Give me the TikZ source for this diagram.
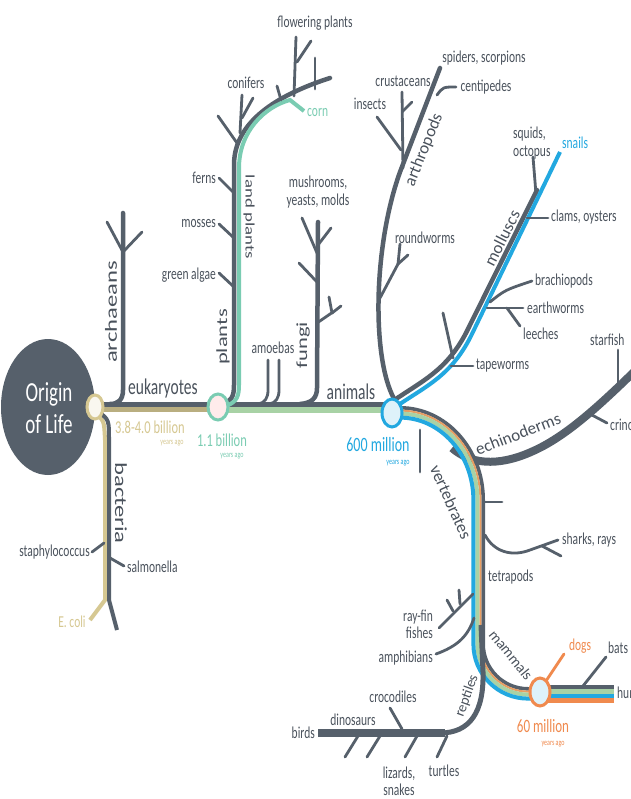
\documentclass[tikz,border=0pt]{standalone}
\usepackage{fontspec}
\setmainfont{Carlito}

\definecolor{tgray}{HTML}{56606B}
\definecolor{tlabel}{HTML}{4A525C}
\definecolor{tbeige}{HTML}{D6C892}
\definecolor{ttan}{HTML}{B9AE80}
\definecolor{tmint}{HTML}{7ACCB2}
\definecolor{tsage}{HTML}{A8D2A5}
\definecolor{tblue}{HTML}{22A8E0}
\definecolor{torange}{HTML}{F08A4E}

\tikzset{
  stem/.style={draw=tgray, line width=4.5pt, line cap=round},
  twig/.style={draw=tgray, line width=2.8pt, line cap=round},
  lbl/.style={font=\fontsize{11.5}{12}\selectfont, text=tlabel, yscale=1.45, inner sep=0pt},
  clade/.style={lbl, font=\fontsize{15.5}{16}\selectfont},
  slant/.style={font=\fontsize{17}{17}\selectfont, text=tlabel, inner sep=0pt},
  age/.style={lbl, font=\fontsize{12.5}{13}\selectfont},
  ago/.style={lbl, font=\fontsize{6}{7}\selectfont},
  ring/.style={line width=3pt},
}

% one strand of the vertebrate bundle: colour, offset, width
\newcommand\vstrand[3]{%
  \draw[#1, line width=#3pt] (392,{413-(#2)}) -- (400,{413-(#2)})
    arc[start angle=-90, end angle=0, x radius={78+(#2)}, y radius={87+(#2)}]
    -- ({478+(#2)},644)
    arc[start angle=180, end angle=90, x radius={50-(#2)}, y radius={50-(#2)}]
    -- (540,{694-(#2)});}

\begin{document}
\begin{tikzpicture}[x=1pt,y=-1pt]
\useasboundingbox[fill=white] (0,0) rectangle (630,799);

% origin of life
\fill[tgray] (48,407) ellipse [x radius=47, y radius=68];
\node[lbl, text=white, align=center, font=\fontsize{19}{22}\selectfont] (origin) at (49,408) {Origin\\of Life};

% main line
\draw[line width=5pt, ttan] (95,409) -- (218,409);
\draw[line width=6pt, tsage] (218,410) -- (392,410);
\draw[line width=5pt, tgray] (93,404) -- (392,404);

% archaeans
\draw[stem] (123,213) -- (123,390) .. controls (123,400) and (118,404) .. (110,404);
\draw[twig] (123,252) -- (107,222);
\draw[twig] (123,252) -- (142,232);
\node[clade, rotate=90, font=\fontsize{17}{17}\selectfont] (archaeans) at (111,312) {archaeans};
\node[clade, anchor=west] (eukaryotes) at (128,389) {eukaryotes};

% bacteria
\draw[line width=4pt, tbeige] (95,413) .. controls (104,420) .. (105,440) -- (105,600) -- (90,620);
\draw[line width=4pt, tgray] (99,412) .. controls (109,420) .. (109,440) -- (109,600) -- (117,630);
\draw[twig] (104,543) -- (92,552);
\draw[twig] (110,558) -- (124,566);
\node[clade, rotate=-90, font=\fontsize{17}{17}\selectfont] (bacteria) at (121,503) {bacteria};
\node[lbl, anchor=east] (staph) at (90,552) {staphylococcus};
\node[lbl, anchor=west] (salmonella) at (127,567) {salmonella};
\node[lbl, text=tbeige] (ecoli) at (72,622) {E. coli};
\node[age, text=tbeige] (age38) at (150,427) {3.8-4.0 billion};
\node[ago, text=tbeige] (ago38) at (172,443) {years ago};

% plants
\draw[stem] (220,404) .. controls (232,402) and (234,396) .. (234,385) -- (234,165)
  .. controls (234,130) and (262,100) .. (330,78);
\draw[line width=4pt, tmint] (226,406) .. controls (237,402) and (239,396) .. (239,385) -- (239,168)
  .. controls (239,132) and (264,107) .. (290,100) -- (304,111);
\draw[twig] (234,287) -- (219,273);
\draw[twig] (234,238) -- (219,224);
\draw[twig] (234,193) -- (219,178);
\draw[twig] (237,143) -- (218,116);
\draw[twig] (240,133) -- (242,95);
\draw[twig] (242,118) -- (253,98);
\draw[twig] (281,100) -- (277,86);
\draw[twig] (294,96) -- (296,37);
\draw[twig] (297,62) -- (311,41);
\draw[twig] (315,89) -- (315,58);
\node[clade, rotate=90] (plants) at (223,337) {plants};
\node[lbl, rotate=-90, font=\fontsize{13}{13}\selectfont] (landplants) at (249,217) {land plants};
\node[lbl, anchor=east] (algae) at (216,275) {green algae};
\node[lbl, anchor=east] (mosses) at (216,224) {mosses};
\node[lbl, anchor=east] (ferns) at (216,178) {ferns};
\node[lbl] (conifers) at (246,83) {conifers};
\node[lbl] (flowering) at (315,23) {flowering plants};
\node[lbl, text=tmint, anchor=west] (corn) at (307,113) {corn};
\node[age, text=tmint] (age11) at (222,440) {1.1 billion};
\node[ago, text=tmint] (ago11) at (232,456) {years ago};

% amoebas and fungi
\draw[twig] (258,404) .. controls (265,403) and (268,398) .. (268,390) -- (268,360);
\draw[twig] (269,404) .. controls (276,403) and (279,398) .. (279,390) -- (279,360);
\draw[stem] (300,404) .. controls (312,403) and (317,398) .. (317,388) -- (318,222);
\draw[twig] (317,253) -- (302,218);
\draw[twig] (318,245) -- (331,228);
\draw[twig] (317,282) -- (299,263);
\draw[twig] (317,323) -- (333,312);
\draw[twig] (332,313) -- (329,297);
\draw[twig] (332,313) -- (341,306);
\node[lbl] (amoebas) at (273,348) {amoebas};
\node[clade, rotate=90] (fungi) at (303,345) {fungi};
\node[lbl, align=center] (mushrooms) at (318,192) {mushrooms,\\yeasts, molds};
\node[clade] (animals) at (351,392) {animals};

% arthropods and worms
\draw[stem] (396,402) .. controls (372,365) and (372,250) .. (400,172) -- (440,68);
\draw[twig] (403,168) -- (402,92);
\draw[twig] (402,112) -- (412,102);
\draw[twig] (401,150) -- (377,117);
\draw[twig] (437,95) .. controls (443,87) .. (456,87);
\draw[twig] (380,298) -- (398,264) -- (408,255);
\draw[twig] (398,264) -- (400,244);
\node[slant, rotate=68] (arthropods) at (424,150) {arthropods};
\node[lbl] (spiders) at (484,58) {spiders, scorpions};
\node[lbl] (centipedes) at (486,87) {centipedes};
\node[lbl] (crustaceans) at (403,81) {crustaceans};
\node[lbl] (insects) at (370,104) {insects};
\node[lbl] (roundworms) at (425,238) {roundworms};

% molluscs
\draw[stem] (393,401) .. controls (422,381) and (446,371) .. (466,333) -- (537,190);
\draw[line width=4pt, tblue] (397,406) .. controls (426,386) and (451,376) .. (471,336) -- (560,152);
\draw[twig] (443,313) -- (453,358);
\draw[twig] (451,366) -- (473,366);
\draw[twig] (533,157) -- (536,194);
\draw[twig] (527,218) -- (548,218);
\draw[twig] (490,302) .. controls (505,290) .. (532,281);
\draw[twig] (487,308) -- (523,308);
\draw[twig] (507,308) -- (520,326);
\node[slant, rotate=63] (molluscs) at (502,238) {molluscs};
\node[lbl, align=left, anchor=west] (squids) at (513,143) {squids,\\octopus};
\node[lbl, text=tblue, anchor=west] (snails) at (562,143) {snails};
\node[lbl, anchor=west] (clams) at (551,217) {clams, oysters};
\node[lbl, anchor=west] (brachiopods) at (535,281) {brachiopods};
\node[lbl, anchor=west] (earthworms) at (527,308) {earthworms};
\node[lbl, anchor=west] (leeches) at (523,334) {leeches};
\node[lbl, anchor=west] (tapeworms) at (476,366) {tapeworms};

% echinoderms
\draw[line width=8pt, tgray] (452,448) .. controls (470,464) and (497,467) .. (531,452)
  .. controls (566,437) and (600,405) .. (640,366);
\draw[twig] (618,350) -- (618,385);
\draw[twig] (590,414) -- (607,423);
\node[slant, rotate=21] (echinoderms) at (518,434) {echinoderms};
\node[lbl, anchor=west] (starfish) at (590,340) {starfish};
\node[lbl, anchor=west] (crinoids) at (610,425) {crinoids};

% vertebrates
\vstrand{tgray}{5.2}{3.6}
\vstrand{torange!70!tbeige}{2.4}{2}
\vstrand{tsage}{-0.6}{4}
\vstrand{tblue}{-4.6}{4}
\draw[twig] (420,430) -- (420,472);
\draw[twig] (485,502) -- (502,502);
\draw[twig] (485,535) .. controls (494,552) and (512,557) .. (530,550) -- (558,540);
\draw[twig] (542,546) -- (561,556);
\draw[twig] (473,594) -- (439,628);
\draw[twig] (453,611) -- (447,600);
\draw[twig] (460,604) -- (459,590);
\draw[twig] (474,618) .. controls (468,636) and (458,646) .. (436,654);
\node[slant, rotate=-66] (vertebrates) at (451,502) {vertebrates};
\node[lbl, anchor=west] (sharks) at (562,540) {sharks, rays};
\node[lbl, anchor=west] (tetrapods) at (488,577) {tetrapods};
\node[lbl, align=right, anchor=east] (rayfin) at (433,624) {ray-fin\\fishes};
\node[lbl, anchor=east] (amphibians) at (433,658) {amphibians};

% reptiles
\draw[line width=5pt, tgray] (481,625) -- (483,672) .. controls (484,712) and (470,733) .. (440,733);
\draw[line width=8pt, tgray] (445,733) -- (318,733);
\draw[twig] (358,736) -- (345,757);
\draw[twig] (380,736) -- (367,757);
\draw[twig] (417,736) -- (405,757);
\draw[twig] (447,736) -- (437,757);
\draw[twig] (390,708) -- (402,729);
\node[slant, rotate=70, font=\fontsize{14.5}{14.5}\selectfont] (reptiles) at (467,696) {reptiles};
\node[lbl, anchor=east] (birds) at (315,733) {birds};
\node[lbl] (dinosaurs) at (353,720) {dinosaurs};
\node[lbl] (crocodiles) at (393,697) {crocodiles};
\node[lbl, align=center] (lizards) at (399,781) {lizards,\\snakes};
\node[lbl] (turtles) at (444,771) {turtles};

% mammals
\draw[line width=4.5pt, tgray] (540,687) -- (614,687);
\draw[line width=4.5pt, tsage] (540,691.5) -- (614,691.5);
\draw[line width=4.5pt, tblue] (540,696) -- (614,696);
\draw[line width=4.5pt, torange] (540,700.5) -- (614,700.5);
\draw[line width=2.8pt, torange, line cap=round] (546,681) -- (564,654);
\draw[twig] (583,686) -- (606,657);
\node[slant, rotate=-51, font=\fontsize{15}{15}\selectfont] (mammals) at (511,655) {mammals};
\node[lbl, text=torange] (dogs) at (580,646) {dogs};
\node[lbl, anchor=west] (bats) at (608,648) {bats};
\node[lbl, anchor=west] (humans) at (617,693) {humans};

% nodes in time
\draw[ring, draw=tbeige, fill=white!85!tbeige] (95,407) ellipse [x radius=8, y radius=12];
\draw[ring, draw=tmint, fill=red!8] (218,407) ellipse [x radius=10, y radius=13];
\draw[ring, draw=tblue, fill=tblue!15] (392,413) ellipse [x radius=10, y radius=14];
\draw[ring, draw=torange, fill=tblue!15] (540,692) ellipse [x radius=10, y radius=14];
\node[age, text=tblue, font=\fontsize{14}{14}\selectfont] (age600) at (378,445) {600 million};
\node[ago, text=tblue] (ago600) at (398,463) {years ago};
\node[age, text=torange, font=\fontsize{13}{13}\selectfont] (age60) at (543,726) {60 million};
\node[ago, text=torange] (ago60) at (553,744) {years ago};

\end{tikzpicture}
\end{document}
